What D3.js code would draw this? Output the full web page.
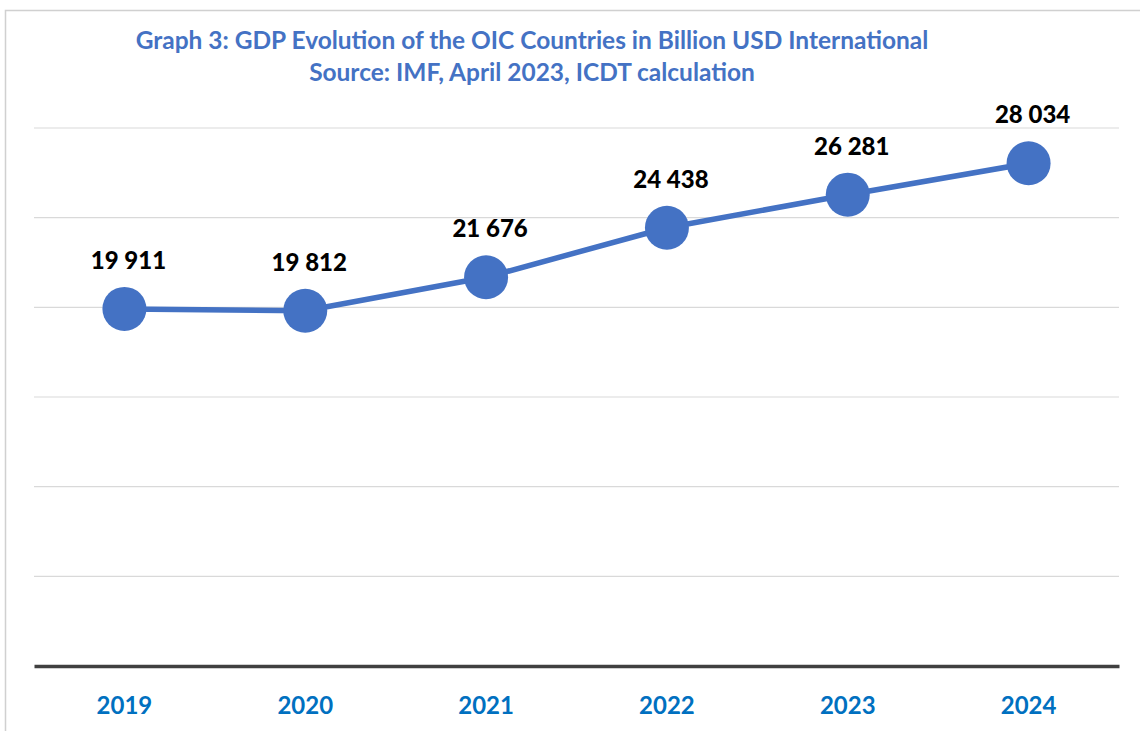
<!DOCTYPE html>
<html>
<head>
<meta charset="utf-8">
<script src="https://cdn.jsdelivr.net/npm/d3@7"></script>
<style>
  html, body { margin: 0; padding: 0; background: #ffffff; }
  svg { display: block; }
</style>
</head>
<body>
<svg id="chart" width="1140" height="731"></svg>
<script>
// GDP of the OIC countries, billion USD (international)
const years = ["2019", "2020", "2021", "2022", "2023", "2024"];
const gdp = [19911, 19812, 21676, 24438, 26281, 28034];
const gridValues = [0, 5000, 10000, 15000, 20000, 25000, 30000];
const titleLines = [
  "Graph 3: GDP Evolution of the OIC Countries in Billion USD International",
  "Source: IMF, April 2023, ICDT calculation"
];

const svg = d3.select("#chart");
const W = 1140, H = 731;
const plot = { left: 34, right: 1119, top: 128, bottom: 666 };

// frame of the chart area
svg.append("path")
  .attr("d", `M5.5,${H} V10.5 H${W}`)
  .attr("fill", "none")
  .attr("stroke", "#d0d0d0")
  .attr("stroke-width", 1.5);

// title, sized so the first line spans about 793px
const title = svg.append("g").selectAll("text")
  .data(titleLines)
  .join("text")
  .attr("x", 532)
  .attr("y", (d, i) => 49 + i * 32)
  .attr("text-anchor", "middle")
  .attr("font-family", "Lato, 'Open Sans', sans-serif")
  .attr("font-weight", "bold")
  .attr("font-size", 20)
  .attr("fill", "#4472C4")
  .text(d => d);
const firstLen = title.node().getComputedTextLength();
if (firstLen > 0) title.attr("font-size", 20 * 793 / firstLen);

const x = d3.scaleBand().domain(years).range([plot.left, plot.right]);
const y = d3.scaleLinear().domain([0, 30000]).range([plot.bottom, plot.top]);

// horizontal gridlines
svg.append("g").selectAll("line")
  .data(gridValues.filter(v => v > 0))
  .join("line")
  .attr("x1", plot.left).attr("x2", plot.right)
  .attr("y1", d => y(d)).attr("y2", d => y(d))
  .attr("stroke", "#d9d9d9")
  .attr("stroke-width", 1.2);

// category axis
const xAxis = svg.append("g")
  .attr("transform", `translate(0,${plot.bottom})`)
  .call(d3.axisBottom(x).tickSize(0).tickPadding(31));
xAxis.select(".domain")
  .attr("stroke", "#404040")
  .attr("stroke-width", 3.5);
xAxis.selectAll("text")
  .attr("font-family", "Lato, 'Open Sans', sans-serif")
  .attr("font-weight", "bold")
  .attr("font-size", 24)
  .attr("fill", "#0070C0");

const cx = d => x(d) + x.bandwidth() / 2;
const data = years.map((yr, i) => ({ yr, v: gdp[i] }));

// series line
svg.append("path")
  .datum(data)
  .attr("fill", "none")
  .attr("stroke", "#4472C4")
  .attr("stroke-width", 5.5)
  .attr("stroke-linejoin", "round")
  .attr("d", d3.line().x(d => cx(d.yr)).y(d => y(d.v)));

// markers
svg.append("g").selectAll("circle")
  .data(data)
  .join("circle")
  .attr("cx", d => cx(d.yr))
  .attr("cy", d => y(d.v))
  .attr("r", 22)
  .attr("fill", "#4472C4");

// value labels
const fmt = v => d3.format(",")(v).replace(/,/g, " ");
svg.append("g").selectAll("text")
  .data(data)
  .join("text")
  .attr("x", d => cx(d.yr) + 4)
  .attr("y", d => y(d.v) - 40)
  .attr("text-anchor", "middle")
  .attr("font-family", "Lato, 'Open Sans', sans-serif")
  .attr("font-weight", "900")
  .attr("font-size", 24)
  .attr("fill", "#000000")
  .text(d => fmt(d.v));
</script>
</body>
</html>
